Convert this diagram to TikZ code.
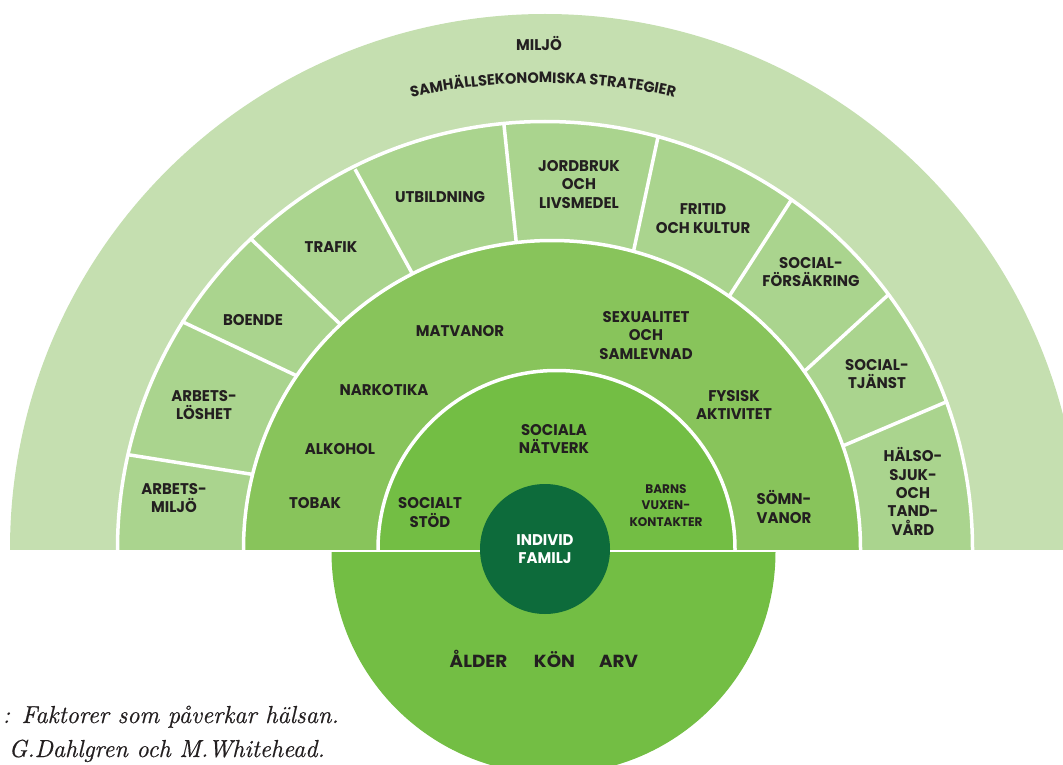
\documentclass[tikz,border=0pt]{standalone}
\usepackage{fontspec}
\newfontfamily\lab{Poppins}[FakeStretch=0.965]
\newfontfamily\labbig{Poppins}[FakeStretch=1.05]
\newfontfamily\capfont{lmroman10-italic.otf}[FakeBold=0.4,FakeStretch=0.975]
\usetikzlibrary{decorations.text,calc}
\definecolor{outerc}{RGB}{197,223,176}
\definecolor{ringc}{RGB}{170,212,142}
\definecolor{lifec}{RGB}{136,196,91}
\definecolor{socc}{RGB}{115,190,68}
\definecolor{darkc}{RGB}{13,107,59}
\definecolor{txtc}{RGB}{35,31,32}
\begin{document}
\begin{tikzpicture}[x=1pt,y=-1pt,
  lbl/.style={font=\lab\bfseries\fontsize{15.5}{18.3}\selectfont, text=txtc, align=center, inner sep=0pt},
  smalllbl/.style={font=\lab\bfseries\fontsize{12.5}{16.5}\selectfont, text=txtc, align=center, inner sep=0pt},
  biglbl/.style={font=\labbig\bfseries\fontsize{17.5}{20}\selectfont, text=txtc, inner sep=0pt, anchor=base},
  sepline/.style={white, line width=3.5pt},
  captxt/.style={font=\capfont\fontsize{24.6}{34}\selectfont, text=txtc, inner sep=0pt, anchor=base east}]
\useasboundingbox (0,0) rectangle (1063,765);
% upper half
\begin{scope}
  \clip (0,0) rectangle (1063,549.3);
  \fill[outerc] (545,549) circle[radius=535];
  \fill[ringc] (545,549) circle[radius=427.5];
  % divider coordinates (outer -> inner)
  \coordinate (d1o) at (130,455); \coordinate (d1i) at (250,474);
  \coordinate (d2o) at (183,322); \coordinate (d2i) at (295,375);
  \coordinate (d3o) at (252,240); \coordinate (d3i) at (339,323);
  \coordinate (d4o) at (356,171); \coordinate (d4i) at (412,273);
  \coordinate (d5o) at (504,125); \coordinate (d5i) at (516,240);
  \coordinate (d6o) at (658,137); \coordinate (d6i) at (634,249);
  \coordinate (d7o) at (790,202); \coordinate (d7i) at (730,295);
  \coordinate (d8o) at (888,295); \coordinate (d8i) at (807,369);
  \coordinate (d9o) at (946,402); \coordinate (d9i) at (845,445);
  \foreach \i in {1,...,9}
    \draw[sepline] ($(d\i o)!-2pt!(d\i i)$) -- ($(d\i i)!-10pt!(d\i o)$);
  \draw[sepline] (545,549) circle[radius=427.5];
  \fill[lifec, draw=white, line width=3.5pt] (552,549) circle[radius=308.5];
  \fill[socc, draw=white, line width=3.5pt] (556.5,549) circle[radius=178.5];
\end{scope}
% lower half
\begin{scope}
  \clip (0,552.3) rectangle (1063,800);
  \fill[socc] (553.5,552) circle[radius=222];
\end{scope}
% centre
\node[circle, fill=darkc, minimum size=130pt, inner sep=0pt,
      font=\lab\bfseries\fontsize{15.5}{18.3}\selectfont, text=white, align=center]
      (indiv) at (545,549) {INDIVID\\FAMILJ};
% outer band
\node[lbl] (miljo) at (539,43) {MILJÖ};
\path[decorate, decoration={text along path, text align=center,
  text={|\lab\bfseries\fontsize{15}{18.3}\selectfont\color{txtc}|SAMHÄLLSEKONOMISKA STRATEGIER}}]
  (543,703) ++(240:620) arc[start angle=240, end angle=300, radius=620];
% ring
\node[lbl] (amiljo) at (174,498) {ARBETS-\\MILJÖ};
\node[lbl] (aloshet) at (204,405) {ARBETS-\\LÖSHET};
\node[lbl] (boende) at (253,320) {BOENDE};
\node[lbl] (trafik) at (331,247) {TRAFIK};
\node[lbl] (utb) at (440,197) {UTBILDNING};
\node[lbl] (jord) at (579,184.5) {JORDBRUK\\OCH\\LIVSMEDEL};
\node[lbl] (fritid) at (703,218.5) {FRITID\\OCH KULTUR};
\node[lbl] (sforsak) at (811,272) {SOCIAL-\\FÖRSÄKRING};
\node[lbl] (stjanst) at (877,374) {SOCIAL-\\TJÄNST};
\node[lbl] (halso) at (913,491.5) {HÄLSO-\\SJUK-\\OCH\\TAND-\\VÅRD};
% lifestyle
\node[lbl] (mat) at (460,331) {MATVANOR};
\node[lbl] (nark) at (384,390) {NARKOTIKA};
\node[lbl] (alk) at (340,449) {ALKOHOL};
\node[lbl] (tobak) at (315,503) {TOBAK};
\node[lbl] (sex) at (646,335.5) {SEXUALITET\\OCH\\SAMLEVNAD};
\node[lbl] (fysisk) at (734,405) {FYSISK\\AKTIVITET};
\node[lbl] (somn) at (784,507) {SÖMN-\\VANOR};
% social
\node[lbl] (natverk) at (554,439) {SOCIALA\\NÄTVERK};
\node[lbl] (stod) at (430,512.5) {SOCIALT\\STÖD};
\node[smalllbl] (barns) at (666,505.5) {BARNS\\VUXEN-\\KONTAKTER};
% bottom
\node[biglbl] (alder) at (478.5,667) {ÅLDER};
\node[biglbl] (kon) at (554.5,667) {KÖN};
\node[biglbl] (arv) at (618.5,667) {ARV};
% caption
\node[captxt] (cap1) at (339,723) {: Faktorer som påverkar hälsan.};
\node[captxt] (cap2) at (325,757) {G.Dahlgren och M.Whitehead.};
\end{tikzpicture}
\end{document}
